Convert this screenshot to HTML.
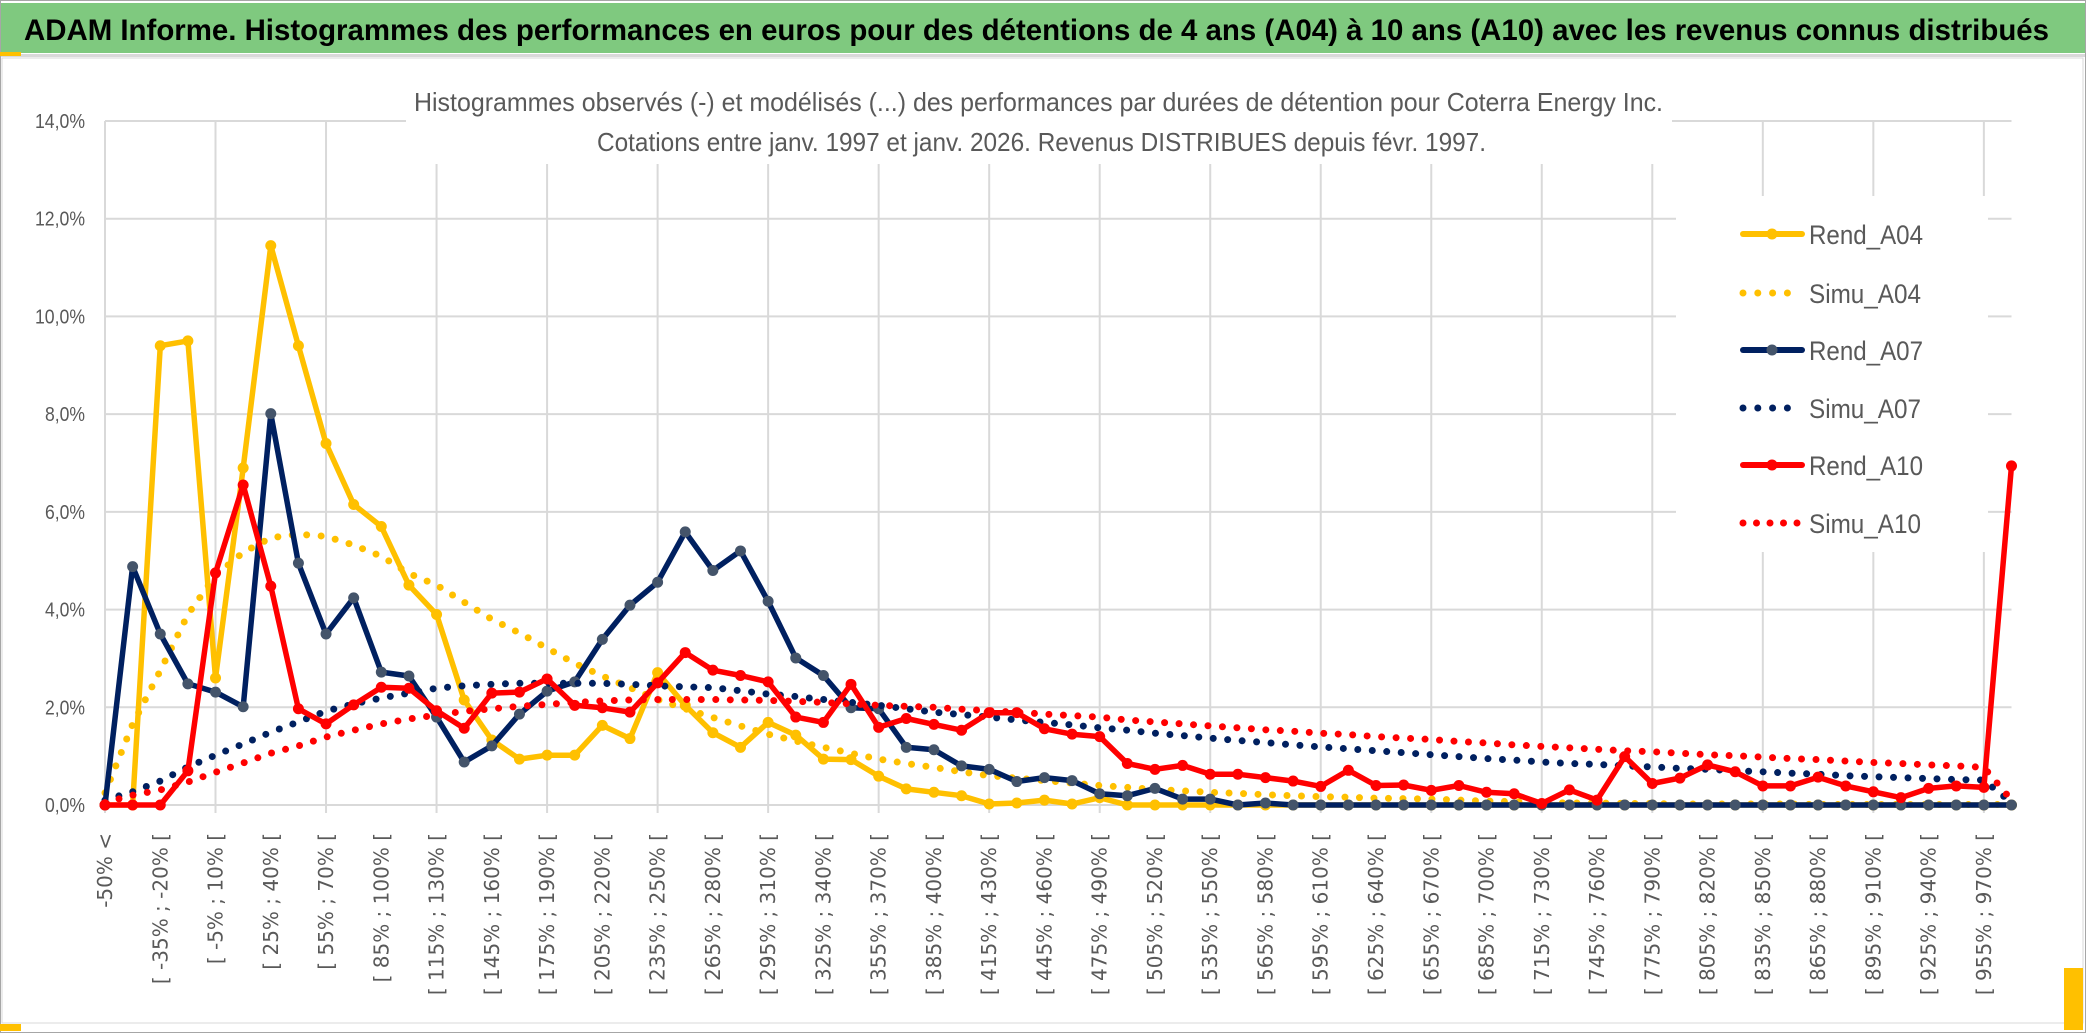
<!DOCTYPE html>
<html><head><meta charset="utf-8"><style>
html,body{margin:0;padding:0;background:#fff;width:2086px;height:1033px;overflow:hidden}
svg{display:block}
</style></head><body>
<svg id="chart" width="2086" height="1033" viewBox="0 0 2086 1033" xmlns="http://www.w3.org/2000/svg">
<rect x="0.5" y="0.5" width="2085" height="1032" fill="#fff" stroke="#a6a6a6"/>
<rect x="1" y="3" width="2084" height="50" fill="#7fc97f"/>
<rect x="1" y="54" width="2084" height="3" fill="#d9d9d9"/>
<rect x="0" y="52" width="21" height="4" fill="#ffc000"/>
<text x="24" y="40" font-family="Liberation Sans, sans-serif" font-weight="bold" font-size="30" fill="#000" textLength="2025" lengthAdjust="spacingAndGlyphs">ADAM Informe. Histogrammes des performances en euros pour des détentions de 4 ans (A04) à 10 ans (A10) avec les revenus connus distribués</text>
<rect x="2" y="58" width="2081" height="965" fill="#fff" stroke="#d9d9d9"/>
<rect x="0" y="1024" width="21" height="7" fill="#ffc000"/>
<rect x="2064" y="968" width="19" height="62" fill="#ffc000"/>
<g id="grid"></g>
<g id="masks">
<rect x="406" y="70" width="1266" height="94" fill="#fff"/>
<rect x="1676" y="196" width="312" height="356" fill="#fff"/>
</g>
<text x="414" y="111" font-family="Liberation Sans, sans-serif" font-size="26" fill="#595959" textLength="1249" lengthAdjust="spacingAndGlyphs">Histogrammes observés (-) et modélisés (...) des performances par durées de détention pour Coterra Energy Inc.</text>
<text x="597" y="151" font-family="Liberation Sans, sans-serif" font-size="26" fill="#595959" textLength="889" lengthAdjust="spacingAndGlyphs">Cotations entre janv. 1997 et janv. 2026. Revenus DISTRIBUES depuis févr. 1997.</text>
<g id="yaxis"></g>
<g id="xaxis"></g>
<g id="series"></g>
<g id="legend"></g>
</svg>
<script>
const yTicks = [0, 2, 4, 6, 8, 10, 12, 14];
const yTickLabels = ["0,0%", "2,0%", "4,0%", "6,0%", "8,0%", "10,0%", "12,0%", "14,0%"];
const rendA04 = [0,0,9.4,9.5,2.6,6.9,11.45,9.4,7.4,6.15,5.7,4.5,3.9,2.15,1.33,0.94,1.02,1.02,1.63,1.36,2.71,2.04,1.48,1.18,1.69,1.43,0.94,0.93,0.59,0.33,0.26,0.19,0.02,0.04,0.1,0.02,0.15,0,0,0,0,0,0,0,0,0,0,0,0,0,0,0,0,0,0,0,0,0,0,0,0,0,0,0,0,0,0,0,0,0];
const simuA04 = [0.25,1.65,2.75,3.9,4.7,5.17,5.47,5.54,5.5,5.32,5.09,4.74,4.5,4.15,3.8,3.52,3.21,2.9,2.64,2.4,2.16,1.97,1.79,1.62,1.45,1.31,1.18,1.06,0.94,0.85,0.77,0.68,0.6,0.55,0.5,0.45,0.4,0.36,0.32,0.29,0.26,0.24,0.21,0.19,0.17,0.16,0.14,0.13,0.12,0.1,0.08,0.07,0.05,0.04,0.04,0.03,0.03,0.02,0.02,0.02,0.02,0.02,0.01,0.01,0.01,0.01,0.01,0.01,0.01,0.01];
const rendA07 = [0,4.88,3.5,2.48,2.31,2.01,8.01,4.95,3.5,4.24,2.72,2.64,1.8,0.88,1.21,1.86,2.33,2.52,3.39,4.09,4.56,5.59,4.8,5.2,4.17,3.01,2.65,1.99,1.97,1.18,1.13,0.8,0.73,0.48,0.56,0.5,0.23,0.19,0.34,0.12,0.12,0,0.04,0,0,0,0,0,0,0,0,0,0,0,0,0,0,0,0,0,0,0,0,0,0,0,0,0,0,0];
const simuA07 = [0.1,0.27,0.49,0.78,1.02,1.25,1.49,1.7,1.92,2.07,2.19,2.29,2.39,2.44,2.47,2.49,2.49,2.49,2.49,2.47,2.44,2.42,2.4,2.34,2.27,2.22,2.16,2.1,2.04,1.97,1.9,1.85,1.8,1.74,1.69,1.64,1.58,1.53,1.47,1.42,1.37,1.32,1.28,1.23,1.19,1.15,1.11,1.07,1.03,0.99,0.95,0.92,0.88,0.85,0.83,0.8,0.78,0.75,0.73,0.7,0.68,0.65,0.63,0.6,0.58,0.56,0.54,0.52,0.51,0.05];
const rendA10 = [0,0,0,0.7,4.75,6.55,4.48,1.97,1.66,2.05,2.41,2.39,1.93,1.57,2.29,2.31,2.58,2.04,1.99,1.9,2.5,3.12,2.76,2.65,2.52,1.8,1.69,2.47,1.59,1.77,1.65,1.53,1.89,1.89,1.56,1.45,1.4,0.85,0.73,0.81,0.63,0.63,0.56,0.49,0.38,0.71,0.4,0.41,0.3,0.4,0.26,0.23,0.03,0.31,0.1,0.99,0.44,0.55,0.82,0.68,0.39,0.39,0.57,0.39,0.27,0.15,0.34,0.39,0.36,6.94];
const simuA10 = [0.05,0.2,0.31,0.47,0.67,0.86,1.06,1.21,1.39,1.53,1.66,1.76,1.84,1.92,1.97,2.02,2.06,2.1,2.13,2.15,2.16,2.16,2.16,2.15,2.14,2.12,2.1,2.07,2.04,2.02,2,1.96,1.93,1.9,1.86,1.83,1.8,1.74,1.7,1.66,1.62,1.58,1.54,1.51,1.47,1.44,1.4,1.37,1.34,1.3,1.27,1.23,1.2,1.17,1.14,1.11,1.09,1.06,1.03,1.01,0.98,0.95,0.93,0.9,0.87,0.85,0.82,0.8,0.77,0.1];
const seriesNames = ["Rend_A04", "Simu_A04", "Rend_A07", "Simu_A07", "Rend_A10", "Simu_A10"];
const categories = ["-50% <"];
for (let a = -50; a < 970; a += 15) categories.push("[ " + a + "% ; " + (a + 15) + "% [");
categories.push("> 985%");

const NS = "http://www.w3.org/2000/svg";
const X0 = 105, X1 = 2011.5, Y0 = 805, YTOP = 121, YMAX = 14;
const n = rendA04.length;
function xPos(i) { return X0 + (X1 - X0) * i / (n - 1); }
function yPos(v) { return Y0 - (Y0 - YTOP) * v / YMAX; }
function mk(tag, attrs, parent) {
  const e = document.createElementNS(NS, tag);
  for (const k in attrs) e.setAttribute(k, attrs[k]);
  parent.appendChild(e);
  return e;
}
const grid = document.getElementById("grid");
yTicks.forEach(function (t) {
  const l = mk("line", {x1: X0, x2: X1, y1: yPos(t), y2: yPos(t), stroke: "#d9d9d9", "stroke-width": 2}, grid);
  
  
});
for (let i = 0; i < n; i += 4) {
  const l = mk("line", {x1: xPos(i), x2: xPos(i), y1: YTOP, y2: Y0 + 8, stroke: "#d9d9d9", "stroke-width": 2}, grid);
  
  
}
const yaxis = document.getElementById("yaxis");
yTicks.forEach(function (t, k) {
  const lab = yTickLabels[k];
  const tx = mk("text", {x: 85, y: yPos(t) + 7, "text-anchor": "end", "font-family": "Liberation Sans, sans-serif", "font-size": 20, fill: "#595959", textLength: lab.length * 10, lengthAdjust: "spacingAndGlyphs"}, yaxis);
  tx.textContent = lab;
  
  
});
const xaxis = document.getElementById("xaxis");
categories.forEach(function (c, i) {
  if (i % 2 !== 0) return;
  const x = xPos(i) + 7, y = 833;
  const tx = mk("text", {x: x, y: y, transform: "rotate(-90 " + x + " " + y + ")", "text-anchor": "end", "font-family": "DejaVu Sans, sans-serif", "font-size": 20, fill: "#595959"}, xaxis);
  tx.textContent = c;
  
  
});
const seriesData = [rendA04, simuA04, rendA07, simuA07, rendA10, simuA10];
const colors = ["#ffc000", "#ffc000", "#002060", "#002060", "#ff0000", "#ff0000"];
const markerColors = ["#ffc000", null, "#44546a", null, "#ff0000", null];
const sg = document.getElementById("series");
seriesData.forEach(function (arr, s) {
  const g = mk("g", {}, sg);
  
  
  const pts = arr.map(function (v, i) { return xPos(i).toFixed(1) + "," + yPos(v).toFixed(1); }).join(" ");
  const dotted = markerColors[s] === null;
  const pl = mk("polyline", {points: pts, fill: "none", stroke: colors[s], "stroke-width": dotted ? 7 : 5.5, "stroke-linejoin": "round", "stroke-linecap": "round"}, g);
  if (dotted) pl.setAttribute("stroke-dasharray", "0 14.5");
  
  
  if (!dotted) {
    arr.forEach(function (v, i) {
      const c = mk("circle", {cx: xPos(i), cy: yPos(v), r: 5, fill: markerColors[s], stroke: markerColors[s], "stroke-width": 1}, g);
      
      
    });
  }
});
const lg = document.getElementById("legend");
const legendY = [234, 293, 350, 408, 465, 523];
seriesNames.forEach(function (name, s) {
  const y = legendY[s];
  const g = mk("g", {}, lg);
  
  
  const dotted = markerColors[s] === null;
  const l = mk("line", {x1: 1743, x2: dotted ? (s === 5 ? 1800 : 1789) : 1802, y1: y, y2: y, stroke: colors[s], "stroke-width": dotted ? 7 : 6, "stroke-linecap": "round"}, g);
  if (dotted) l.setAttribute("stroke-dasharray", s === 5 ? "0 13.5" : "0 14.8");
  
  
  if (!dotted) {
    const c = mk("circle", {cx: 1772, cy: y, r: 5.5, fill: markerColors[s]}, g);
    
    
  }
  const t = mk("text", {x: 1809, y: y + 10, "font-family": "Liberation Sans, sans-serif", "font-size": 27, fill: "#595959", textLength: name.indexOf("Rend") === 0 ? 114 : 112, lengthAdjust: "spacingAndGlyphs"}, g);
  t.textContent = name;
  
  
});
</script>
</body></html>
